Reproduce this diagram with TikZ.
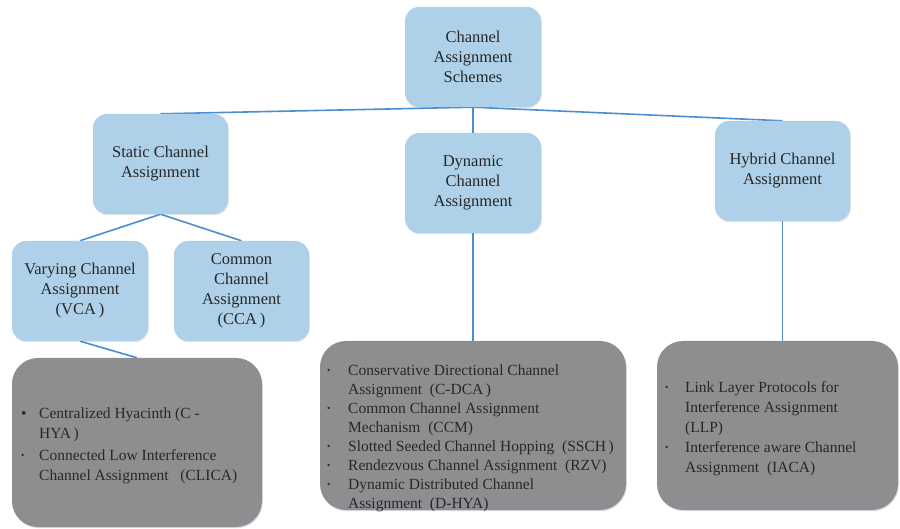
\documentclass[tikz,border=0pt]{standalone}
\usepackage{fontspec}
\setmainfont{Liberation Serif}
\usetikzlibrary{shadows}
\definecolor{boxblue}{HTML}{AED0E8}
\definecolor{boxgray}{HTML}{8E8E91}
\definecolor{linkblue}{HTML}{4A8ED2}
\definecolor{ink}{HTML}{282828}
\pgfdeclarelayer{links}
\pgfsetlayers{links,main}
% bullet of a given width, small dot or full bullet
\newcommand{\smallbul}[1]{\makebox[#1][l]{\raisebox{.12em}{\scalebox{.6}{\textbullet}}}}
\newcommand{\fullbul}[1]{\makebox[#1][l]{\textbullet}}
\begin{document}
\begin{tikzpicture}[x=1pt,y=-1pt,
  catbox/.style={draw=none, fill=boxblue, rounded corners=14pt, align=center,
    text=ink, font=\fontsize{16.5}{20}\selectfont, inner sep=0pt,
    minimum width=135pt, minimum height=100pt,
    drop shadow={shadow xshift=0.8pt, shadow yshift=-1.2pt, fill=boxblue!70!black, opacity=0.25}},
  listbox/.style={draw=none, fill=boxgray, rounded corners=26pt, inner sep=0pt,
    minimum height=169pt,
    drop shadow={shadow xshift=0.8pt, shadow yshift=-1.2pt, fill=boxblue!70!black, opacity=0.3}},
  listtext/.style={anchor=north west, align=left, inner sep=0pt, text=ink},
  link/.style={draw=linkblue, line width=1.6pt}]
\useasboundingbox (0,0) rectangle (900,529);

% category boxes
\node[catbox, minimum width=136pt] (root) at (473,57) {Channel\\Assignment\\Schemes};
\node[catbox] (static) at (160.5,164) {Static Channel\\Assignment};
\node[catbox, minimum width=136pt] (dynamic) at (473,183) {Dynamic\\Channel\\Assignment};
\node[catbox] (hybrid) at (782.5,171) {Hybrid Channel\\Assignment};
\node[catbox, minimum width=136pt] (varying) at (80,291) {Varying Channel\\Assignment\\(VCA\,)};
\node[catbox] (common) at (241.5,291) {Common\\Channel\\Assignment\\(CCA\,)};

% scheme lists
\node[listbox, minimum width=250pt] (list1) at (137,442.5) {};
\node[listbox, minimum width=306pt] (list2) at (473,425.5) {};
\node[listbox, minimum width=241pt] (list3) at (777.5,425.5) {};

% list texts, placed by the top of the first line
\node[listtext, font=\fontsize{15.5}{20}\selectfont] (text1) at (21,404)
  {\strut\fullbul{18pt}Centralized Hyacinth (C -\\
   \hspace*{18pt}HYA\,)\\[2pt]
   \smallbul{18pt}Connected Low Interference\\
   \hspace*{18pt}Channel Assignment \ \ (CLICA)};
\node[listtext, font=\fontsize{15.5}{19}\selectfont] (text2) at (327,361.5)
  {\strut\smallbul{21pt}Conservative Directional Channel\\
   \hspace*{21pt}Assignment \ (C-DCA\,)\\
   \smallbul{21pt}Common Channel Assignment\\
   \hspace*{21pt}Mechanism \ (CCM)\\
   \smallbul{21pt}Slotted Seeded Channel Hopping \ (SSCH\,)\\
   \smallbul{21pt}Rendezvous Channel Assignment \ (RZV)\\
   \smallbul{21pt}Dynamic Distributed Channel\\
   \hspace*{21pt}Assignment \ (D-HYA)};
\node[listtext, font=\fontsize{15.5}{20}\selectfont] (text3) at (665,378)
  {\strut\smallbul{20pt}Link Layer Protocols for\\
   \hspace*{20pt}Interference Assignment\\
   \hspace*{20pt}(LLP)\\
   \smallbul{20pt}Interference aware Channel\\
   \hspace*{20pt}Assignment \ (IACA)};

% connectors, drawn beneath the boxes
\begin{pgfonlayer}{links}
\draw[link] (root.south) -- (static.north);
\draw[link] (root.south) -- (hybrid.north);
\draw[link] (root.south) -- (dynamic.north);
\draw[link] (static.south) -- (varying.north);
\draw[link] (static.south) -- (common.north);
\draw[link] (varying.south) -- (list1.north);
\draw[link] (dynamic.south) -- (list2.north);
\draw[link] (hybrid.south) -- (hybrid.south |- list3.north);
\end{pgfonlayer}
\end{tikzpicture}
\end{document}
